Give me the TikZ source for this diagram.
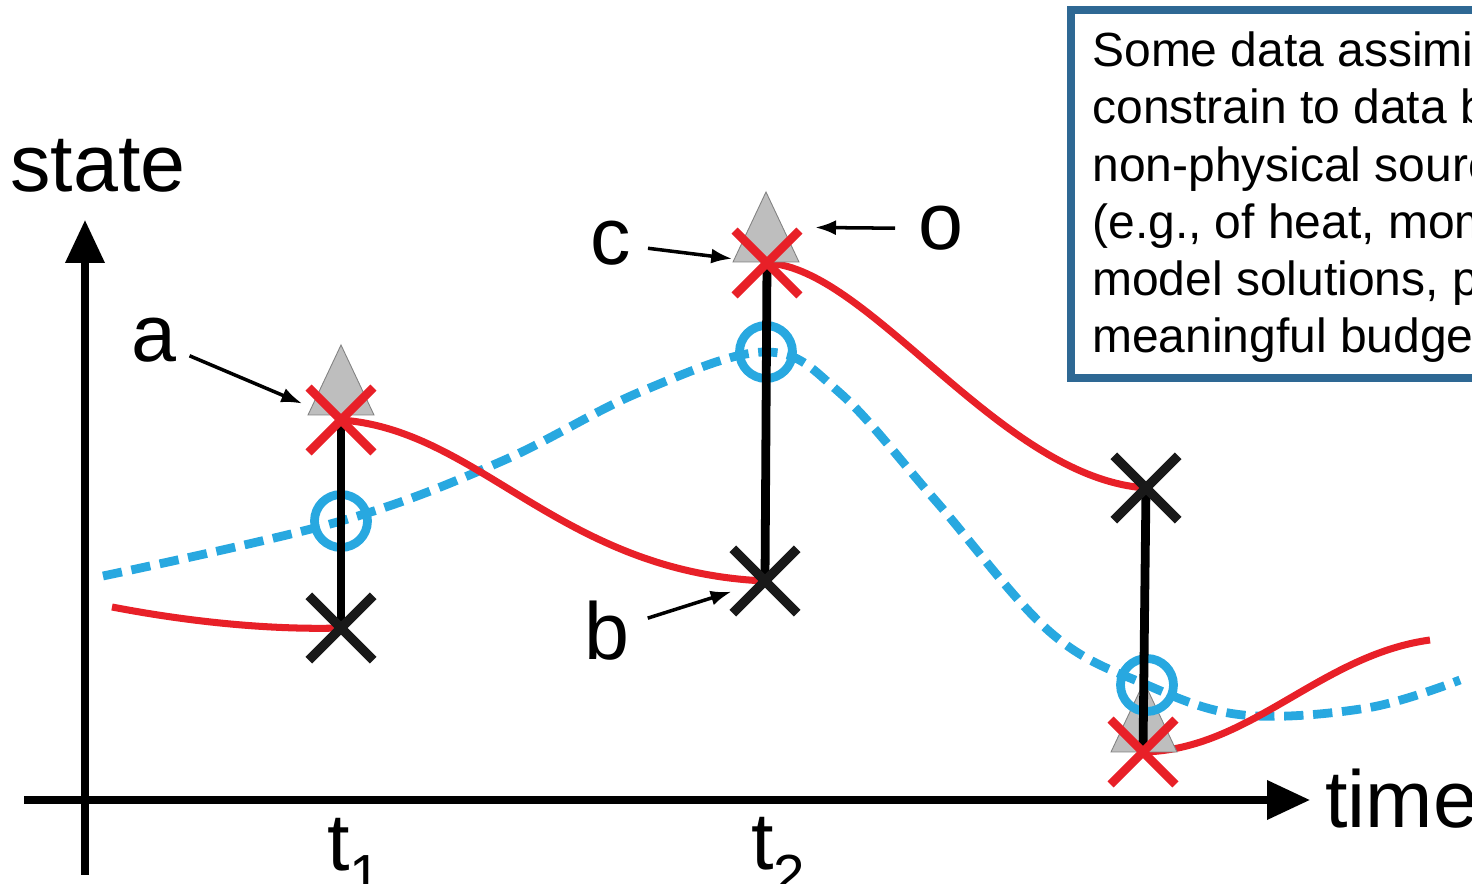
\documentclass[tikz,border=0pt]{standalone}
\usepackage{fontspec}
\setmainfont{Liberation Sans}
\usepackage{tikz}
\usetikzlibrary{arrows.meta,shapes.misc}
\definecolor{anared}{RGB}{232,32,40}
\definecolor{trublue}{RGB}{40,168,224}
\definecolor{obsgrey}{RGB}{190,190,190}
\definecolor{obsedge}{RGB}{130,130,130}
\definecolor{boxblue}{RGB}{46,104,148}
\pgfdeclarelayer{bg}
\pgfdeclarelayer{mid}
\pgfsetlayers{bg,mid,main}

\begin{document}
\begin{tikzpicture}[x=0.02cm, y=-0.02cm,
    fc/.style = {draw=black!90, cross out, line width=5.4pt, inner sep=0pt, minimum size=1.1cm},
    an/.style = {draw=anared, cross out, line width=5pt, inner sep=0pt, minimum size=1.12cm},
    tr/.style = {draw=trublue, circle, line width=5pt, inner sep=0pt, minimum size=1.06cm},
    lbl/.style = {inner sep=0pt, anchor=base west, font=\fontsize{46}{55}\selectfont},
    ptr/.style = {-{Latex[length=0.42cm,width=0.3cm]}, line width=2pt},
    axis/.style = {-{Triangle[length=0.86cm,width=0.76cm]}, line width=4pt},
    stem/.style = {line width=5pt},
    model/.style = {anared, line width=4pt},
    truth/.style = {trublue, line width=5pt, dash pattern=on 11pt off 5.5pt},
    obstri/.pic = {\filldraw[fill=obsgrey, draw=obsedge, line width=0.5pt] (-33,35) -- (0,-35) -- (33,35) -- cycle;}]
    \clip (0,0) rectangle (1472,884);

    % axes
    \coordinate (ybot) at (85,875);
    \coordinate (ytop) at (85,220);
    \coordinate (xlft) at (24,800);
    \coordinate (xrgt) at (1310,800);
    \draw[axis] (ybot) -- (ytop);
    \draw[axis] (xlft) -- (xrgt);
    \node[lbl] (state) at (10,192) {state};
    \node[lbl] (time) at (1325,828) {time};
    \node[lbl] (t1) at (327,871) {t\textsubscript{1}};
    \node[lbl] (t2) at (751,870) {t\textsubscript{2}};

    % markers
    \node[an] (an1) at (341,420) {};
    \node[fc] (fc1) at (341,628) {};
    \node[an] (an2) at (767,263) {};
    \node[fc] (fc2) at (765,581) {};
    \node[fc] (fc3) at (1146,488) {};
    \node[an] (an3) at (1143,752) {};

    \begin{pgfonlayer}{mid}
        \coordinate (ob1) at (341,380);
        \coordinate (ob2) at (766,227);
        \coordinate (ob3) at (1144,717);
        \pic at (ob1) {obstri};
        \pic at (ob2) {obstri};
        \pic at (ob3) {obstri};
        \node[tr] (tr1) at (341,521) {};
        \node[tr] (tr2) at (766,352) {};
        \node[tr] (tr3) at (1147,685) {};
        \draw[stem] (an1.center) -- (fc1.center);
        \draw[stem] (an2.center) -- (fc2.center);
        \draw[stem] (fc3.center) -- (an3.center);
    \end{pgfonlayer}

    \begin{pgfonlayer}{bg}
        \coordinate (tb0) at (103,576);
        \coordinate (tb1) at (1460,680);
        \draw[truth] plot[smooth, tension=0.6] coordinates {(tb0) (tr1.center) (500,462) (640,392) (tr2.center) (840,393) (935,500) (1050,632) (tr3.center) (1243,715) (1367,708) (tb1)};
        \coordinate (md0) at (112,607);
        \coordinate (md1) at (1430,640);
        \draw[model] (md0) .. controls (190,622) and (270,630) .. (fc1.center);
        \draw[model] (an1.center) .. controls (480,430) and (560,572) .. (fc2.center);
        \draw[model] (an2.center) .. controls (870,268) and (1000,478) .. (fc3.center);
        \draw[model] (an3.center) .. controls (1250,750) and (1320,655) .. (md1);
    \end{pgfonlayer}

    % labels
    \node[lbl] (la) at (131,362) {a};
    \node[lbl] (lb) at (584,660) {b};
    \node[lbl] (lc) at (590,265) {c};
    \node[lbl] (lo) at (918,250) {o};
    \draw[ptr, shorten <=0.28cm, shorten >=0.84cm] (la) -- (an1.center);
    \draw[ptr, shorten <=0.38cm, shorten >=0.7cm] (lb) -- (fc2.center);
    \draw[ptr, shorten <=0.34cm, shorten >=0.7cm] (lc) -- (an2.center);
    \draw[ptr, shorten <=0.46cm, shorten >=0.98cm] (lo) -- (ob2);

    % note
    \draw[boxblue, line width=4.5pt] (1071,10) rectangle (1530,378);
    \node[anchor=base west, align=left, inner sep=0pt, font=\fontsize{27.3}{32.6}\selectfont] (note) at (1092,353)
        {Some data assimi\\constrain to data b\\non-physical sourc\\(e.g., of heat, mom\\model solutions, p\\meaningful budge};
\end{tikzpicture}
\end{document}
